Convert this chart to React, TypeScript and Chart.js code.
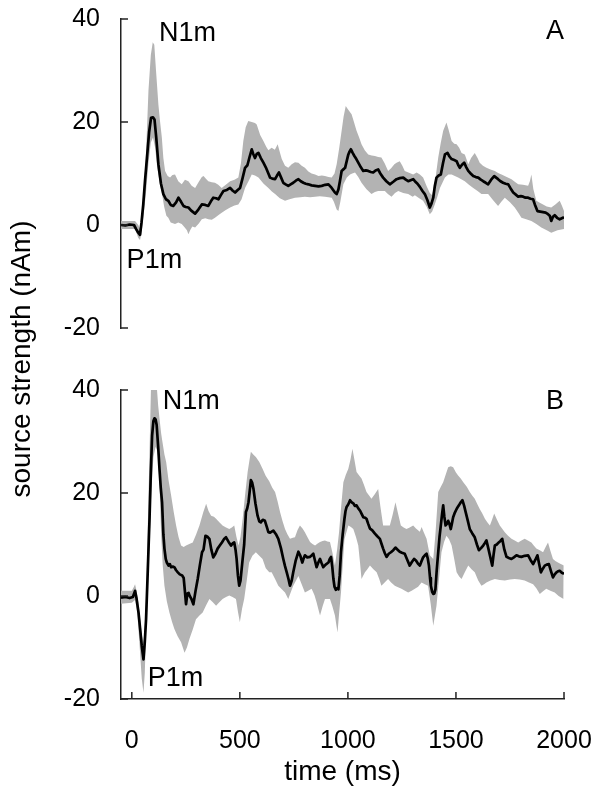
import React, { useEffect, useRef } from 'react';
import { Chart, registerables } from 'chart.js';

Chart.register(...registerables);

// ---- axes / labels ----
const xTicks = [0, 500, 1000, 1500, 2000];
const yTicks = [-20, 0, 20, 40];
const xTitle = 'time (ms)';
const yTitle = 'source strength (nAm)';

// ---- panel A : [time ms, nAm] ----
const meanA: [number, number][] = [[-50,0],[-30,-0.1],[-10,0.1],[10,0],[20,-0.8],[30,-1.5],[38,-1.9],[45,0.5],[53,4],[61,8.5],[70,13],[80,18],[89,20.8],[98,20.9],[105,20.5],[113,17],[123,11.8],[135,8],[146,6],[158,5],[169,4.7],[180,3.9],[192,3.7],[205,4.4],[216,5.3],[228,4.5],[239,3.7],[250,3.5],[262,3.4],[275,2.8],[293,2.2],[308,3],[324,4],[340,3.9],[354,3.7],[366,4.6],[377,5.3],[390,5.2],[401,5],[412,5.8],[424,6.6],[440,6.8],[455,7.2],[466,6.7],[478,6.3],[490,6.8],[501,7.2],[512,9],[524,11.1],[535,11.6],[545,13.2],[555,14.7],[562,13.8],[570,13],[578,13.8],[586,14],[597,13],[609,12.1],[620,11.2],[632,10],[640,9.2],[650,9],[663,8.9],[672,9.6],[681,10.2],[691,9.2],[701,8.2],[712,7.9],[724,7.6],[735,7.9],[747,8.2],[759,8.6],[771,8.9],[782,8.5],[794,8.2],[805,8],[817,7.9],[832,7.7],[848,7.6],[864,7.5],[879,7.6],[895,7.8],[910,7.9],[925,7.2],[940,6.3],[948,6],[956,6.9],[963,8.5],[971,10.5],[979,10.8],[987,11.1],[995,12.5],[1002,13.7],[1008,14.3],[1014,14.7],[1022,14],[1030,13.4],[1039,12.8],[1048,12.1],[1060,11.2],[1071,10.5],[1083,10.6],[1094,10.5],[1106,10.3],[1117,10.2],[1128,10.6],[1140,10.8],[1150,10],[1163,9.2],[1178,8.5],[1194,7.9],[1210,8.4],[1225,8.9],[1240,9.1],[1256,9.2],[1268,8.8],[1279,8.5],[1290,8.7],[1302,8.9],[1310,8.5],[1322,8],[1333,7.4],[1345,6.6],[1356,6],[1368,4.8],[1379,3.4],[1387,4.2],[1395,5.3],[1402,7.5],[1410,9.2],[1420,9.6],[1430,9.8],[1440,12],[1449,13.7],[1461,14],[1470,13.3],[1480,12.8],[1492,12.6],[1503,12.4],[1510,11.7],[1518,11.1],[1528,11.7],[1538,12.1],[1548,11.2],[1557,10.5],[1568,10],[1580,9.5],[1592,9.3],[1603,9.2],[1615,8.8],[1626,8.5],[1638,8.2],[1649,7.9],[1663,8.8],[1677,9.5],[1686,9.2],[1695,8.9],[1706,8.5],[1718,8.2],[1730,8],[1742,7.9],[1753,7.1],[1765,6.3],[1777,5.9],[1788,5.5],[1800,5.6],[1811,5.5],[1822,5.3],[1834,5.3],[1845,5.1],[1857,5],[1865,4],[1877,2.7],[1890,2.6],[1903,2.5],[1915,2.4],[1926,2.1],[1934,1.8],[1941,0.8],[1949,1.6],[1957,1.9],[1968,1.4],[1980,1.1],[1990,1.3],[2000,1.5]];

const upperA: [number, number][] = [[-50,0.8],[0,0.8],[15,0.8],[30,0],[38,-0.8],[45,2],[55,7],[65,13],[77,26],[88,33],[97,35.5],[104,35],[112,30],[123,23.4],[131,20],[139,17],[146,13],[154,10.5],[166,9.5],[177,9.2],[188,9.7],[200,9.8],[215,8.5],[231,7.9],[246,8.8],[262,8.5],[277,7.6],[293,7.2],[310,8.4],[324,9.3],[332,9.5],[343,9],[354,8.5],[370,8.3],[385,8.2],[400,7.8],[416,7.2],[435,7.8],[455,8.5],[475,8.8],[493,9.2],[505,12],[516,16.3],[527,19],[539,20.2],[555,20],[570,19.8],[578,19.5],[594,17.5],[609,16.3],[622,15.2],[632,14.5],[647,15],[662,14.6],[675,15.7],[686,14],[694,12.8],[709,11.5],[724,11.1],[740,11.8],[755,12.2],[771,12.1],[786,11.5],[801,11.1],[817,10.4],[832,10],[848,9.8],[864,9.5],[879,9.6],[894,9.5],[910,9.3],[925,9.2],[938,10],[948,11.8],[960,15],[971,18.3],[980,21],[990,23.1],[1000,22.5],[1017,21.5],[1028,20],[1040,18.3],[1052,17],[1063,15.7],[1078,14.5],[1094,13.7],[1110,13.5],[1125,13.4],[1140,13.2],[1155,13.1],[1170,12],[1186,10.5],[1200,11],[1215,11.8],[1225,12.1],[1240,12.4],[1252,11.5],[1263,10.5],[1280,10.2],[1302,9.8],[1318,10.2],[1333,9.8],[1348,9.2],[1365,7.5],[1379,6.2],[1390,5.8],[1405,9],[1418,13.1],[1430,16],[1441,18.3],[1456,19.9],[1466,18.5],[1480,16.3],[1492,15.8],[1503,15.7],[1515,15],[1526,14],[1541,13.7],[1557,11.8],[1570,13],[1587,14],[1600,13],[1610,12.1],[1625,11.5],[1641,11.1],[1660,10.8],[1680,10.5],[1695,10.1],[1711,9.8],[1735,9.3],[1757,8.9],[1772,8.4],[1788,7.9],[1810,7.8],[1834,7.6],[1842,8.5],[1849,9.8],[1858,7],[1872,4.7],[1888,4.3],[1903,4],[1920,3.6],[1941,3.4],[1960,4],[1980,4.7],[1990,3.8],[2000,2.7]];

const lowerA: [number, number][] = [[-50,-0.8],[15,-0.8],[30,-2.5],[38,-2.9],[45,-1.5],[55,2],[65,6],[77,12],[88,16],[98,17],[108,15],[118,11],[130,8],[139,6.2],[150,3.5],[160,1.8],[169,1.4],[180,0.5],[200,0.2],[215,0.5],[231,0.2],[245,-0.5],[255,-1],[262,-1.8],[270,-1],[280,-0.3],[293,-0.5],[310,0.3],[324,1.1],[340,1.3],[354,1.1],[370,1],[385,1.4],[400,1.9],[416,2.4],[435,2.9],[455,3.4],[475,3.8],[493,4],[508,5],[524,7.2],[540,8.5],[555,9.8],[570,9.6],[586,9.2],[610,8],[632,7.2],[648,6.5],[663,6],[685,5.2],[709,4.7],[730,5],[755,5.3],[780,5.4],[801,5.5],[825,5.4],[848,5.5],[870,5.6],[894,5.5],[910,5.4],[925,5.3],[935,4.5],[948,3],[956,2.7],[965,4.5],[979,7.9],[995,9.2],[1010,9.8],[1020,10],[1033,10.2],[1048,9.3],[1063,8.2],[1085,7],[1109,6],[1125,6.4],[1140,6.6],[1171,6.6],[1185,6],[1202,5.5],[1218,6.2],[1233,6.6],[1256,6.2],[1279,6],[1300,5.5],[1310,5.8],[1330,5.2],[1348,4.7],[1365,3.5],[1379,2.1],[1390,2.6],[1402,4],[1414,5.5],[1426,7.2],[1449,9.2],[1465,9.8],[1480,9.8],[1495,9.5],[1510,9.2],[1541,8.5],[1560,7.8],[1580,7.2],[1600,6.6],[1618,6],[1649,6],[1672,4.8],[1695,3.7],[1710,4.5],[1726,5.3],[1750,4.4],[1772,3.4],[1790,2.3],[1803,1.4],[1825,1.1],[1849,0.8],[1872,0.2],[1895,-0.5],[1920,-1],[1941,-1.5],[1970,-1],[2000,-0.8]];

// ---- panel B : [time ms, nAm] ----
const meanB: [number, number][] = [[-50,-0.3],[-30,-0.2],[-10,-0.4],[5,-0.2],[15,1],[22,-0.5],[31,-3.2],[40,-7],[46,-9.7],[54,-12.3],[60,-9],[66,-4.5],[74,5],[82,15],[88,24],[94,31.2],[100,34],[105,34.5],[110,34.3],[115,33.2],[122,29],[128,24.7],[134,21],[140,18.2],[146,12],[151,9.2],[157,7.2],[162,6.5],[170,5.9],[176,6.2],[182,5.6],[190,5.7],[197,5.6],[205,5],[213,4.6],[222,4.2],[233,4],[240,3.5],[244,1.7],[251,-1.6],[257,0.5],[263,0.6],[267,0.1],[275,-0.5],[285,-1.6],[295,1],[305,3.3],[315,6],[325,8.5],[332,9],[341,11.7],[350,11.5],[359,11.1],[368,9],[377,7.5],[387,8.2],[397,9.2],[407,9.8],[417,10.4],[426,11],[436,11.4],[448,10.5],[459,9.8],[467,10.2],[474,10.4],[480,9],[485,7.2],[491,4],[497,2],[503,3],[513,7.2],[520,10],[528,16.3],[534,17],[540,18.2],[546,20.5],[551,22.5],[557,22],[563,20.8],[572,18],[582,15.6],[590,14.5],[597,14.3],[606,14.8],[616,14.6],[624,13.5],[632,12.4],[640,12.3],[655,12.7],[667,12],[678,11.1],[690,9.3],[701,7.2],[709,5.8],[717,4.6],[725,3.3],[732,2],[740,3],[747,4.6],[758,6.8],[771,8.6],[780,7.8],[789,6.5],[795,7.3],[801,7.9],[812,7.5],[825,7.6],[833,7.9],[840,8.2],[847,7],[855,5.6],[863,6.5],[871,7.2],[878,6.4],[886,5.6],[897,6.1],[910,6.5],[916,7.2],[922,7.6],[928,5.5],[933,3.3],[938,1.8],[944,1.2],[950,1.5],[956,1.3],[962,4],[968,8.5],[976,12],[984,15],[989,16.5],[994,17.3],[1002,17.8],[1010,18.6],[1017,18.2],[1025,18],[1032,17.5],[1040,17.6],[1048,17],[1056,16.6],[1063,16],[1071,15.3],[1079,15.2],[1086,15],[1094,14],[1102,13.1],[1112,12.8],[1125,12.1],[1136,11.6],[1148,11.1],[1155,10.2],[1163,9.2],[1171,8.3],[1179,7.6],[1189,8.2],[1199,8.5],[1210,8.9],[1220,9.4],[1230,9],[1240,8.6],[1250,8.4],[1263,8.2],[1275,7],[1286,5.9],[1296,6.6],[1306,7.2],[1315,6.9],[1324,6.3],[1333,5.9],[1341,6.8],[1348,7.5],[1356,7.9],[1364,8.2],[1370,7.2],[1375,5.9],[1380,3.5],[1384,2],[1390,0.8],[1395,0.4],[1400,0.5],[1405,1.3],[1411,5],[1418,8.5],[1424,11.5],[1430,13.7],[1436,16],[1441,17.6],[1446,15.5],[1452,13.7],[1458,14],[1464,14.6],[1470,14],[1476,13],[1481,14],[1487,15.3],[1495,16.2],[1503,16.9],[1510,17.4],[1518,17.9],[1524,18.3],[1530,18.6],[1538,17.5],[1545,16.3],[1555,14.6],[1564,13],[1575,12.2],[1587,11.4],[1597,10],[1606,8.9],[1616,9.3],[1626,9.8],[1634,10.3],[1641,10.8],[1649,9.4],[1657,7.9],[1663,6.8],[1668,5.9],[1674,8],[1680,9.8],[1689,10],[1698,10.4],[1706,10.7],[1714,11.1],[1724,9],[1734,7.6],[1745,7.4],[1757,7.2],[1768,7.5],[1780,7.9],[1791,7.7],[1803,7.6],[1818,7.8],[1834,7.9],[1845,7],[1857,6.2],[1867,7],[1877,7.9],[1885,6.2],[1893,4.6],[1902,5.3],[1911,5.9],[1920,6.1],[1930,6.2],[1940,4.8],[1949,3.6],[1957,4.2],[1965,4.6],[1972,4.8],[1980,4.9],[1990,4.5],[2000,4.3]];

const upperB: [number, number][] = [[-50,1],[0,1],[10,1.8],[15,2.3],[22,1],[31,-1.5],[40,-5],[46,-7.5],[54,-9],[60,-6],[66,-1],[72,10],[82,28],[89,41],[95,43],[108,43],[115,41],[122,37],[128,34.5],[136,31.5],[143,29.6],[151,27.5],[159,26],[170,22.5],[182,19.5],[194,16.3],[205,13.7],[216,11.5],[228,9.8],[240,9.5],[251,9.8],[266,10.1],[282,10.4],[298,12],[313,13.7],[322,15],[331,16.3],[344,17.9],[355,16.5],[367,15.6],[380,15.4],[390,15],[405,14.3],[420,13.7],[436,13.3],[451,13],[463,13.3],[474,13.7],[484,11.5],[494,9.8],[503,11.5],[513,15],[524,19.5],[536,24.1],[545,26.5],[551,28],[562,27.5],[574,27],[590,26],[605,24.7],[620,23.3],[636,22.3],[650,21],[663,20.2],[675,18.3],[686,16.3],[697,14.6],[709,13],[720,12],[732,11.1],[745,11.3],[755,11.4],[767,12.8],[778,13.7],[790,13.1],[801,12.4],[813,11.4],[825,10.5],[836,10.1],[848,9.8],[860,10.2],[871,10.5],[883,10.7],[894,10.8],[905,10.6],[917,10.5],[928,8.5],[940,5.9],[950,9],[959,12.4],[969,17.5],[979,22.1],[990,23.5],[1002,24.7],[1012,26.5],[1021,28.6],[1030,26.5],[1040,24.1],[1052,23.4],[1063,22.8],[1075,21.5],[1086,20.2],[1098,19.5],[1109,18.9],[1125,19.8],[1140,20.8],[1150,17.5],[1163,13.7],[1178,13.7],[1194,13.7],[1207,15.8],[1220,18.2],[1232,16],[1245,13.7],[1258,13.3],[1271,13],[1286,13.3],[1302,13.7],[1315,13.1],[1333,12.5],[1341,13.4],[1352,12.3],[1364,11.1],[1379,7.9],[1395,7.2],[1405,12],[1418,20.2],[1430,21.2],[1441,22.1],[1452,23.5],[1464,25],[1476,25.2],[1487,25],[1500,24],[1510,23.4],[1522,22.8],[1534,22.1],[1550,21.2],[1564,20.2],[1575,19.5],[1587,18.9],[1598,17.9],[1610,16.9],[1622,16],[1634,15],[1645,14.3],[1657,13.7],[1667,14.8],[1677,16],[1690,14.8],[1703,13.7],[1715,13],[1726,12.4],[1741,11.7],[1757,11.1],[1772,10.8],[1788,10.4],[1803,10.8],[1818,11.1],[1833,10.8],[1849,10.4],[1860,9.8],[1872,9.2],[1888,8.9],[1903,8.5],[1915,9.5],[1926,10.4],[1937,8.8],[1949,7.2],[1960,6.8],[1972,6.5],[1985,6.2],[2000,5.9]];

const lowerB: [number, number][] = [[-50,-1.5],[0,-1.3],[15,-0.8],[25,-3],[35,-9],[46,-16],[54,-18.8],[60,-15],[66,-7],[74,2],[82,10],[90,20],[100,27],[110,29],[120,28],[128,22],[136,11.7],[143,6],[151,2],[162,-1],[174,-3.2],[186,-5],[197,-6.4],[212,-7.8],[228,-9],[236,-10],[244,-11],[255,-10],[267,-8.3],[282,-6.5],[297,-4.5],[313,-3.8],[328,-3.2],[344,-1.8],[359,-0.6],[375,-1.2],[390,-1.9],[405,-1.2],[420,-0.6],[436,-0.2],[451,0.1],[466,-0.2],[482,-0.6],[491,-3],[500,-5.1],[510,-2.5],[520,-0.6],[532,3],[543,6.5],[558,7.8],[574,8.5],[590,7.8],[605,7.2],[620,5.4],[636,4.6],[647,4.6],[663,3.3],[678,2],[694,1.3],[709,0.7],[724,-0.6],[736,0.8],[747,2],[760,3],[771,3.9],[786,2.3],[801,0.7],[816,1],[832,1.4],[845,0.2],[855,-1.2],[863,-2.5],[871,-3.8],[883,-2],[894,-0.6],[906,-0.6],[917,-0.6],[928,-2],[940,-3.8],[946,-5.5],[952,-7.1],[960,-3],[968,0.7],[976,6],[984,11],[1002,13.7],[1014,13.4],[1025,13],[1037,11.5],[1048,9.8],[1056,6.5],[1063,3.3],[1071,4],[1079,4.6],[1090,5.2],[1102,5.9],[1118,5.2],[1133,4.6],[1145,3.3],[1155,2],[1170,2.6],[1186,3.3],[1200,2.6],[1217,2],[1232,1.7],[1248,1.4],[1264,1],[1279,0.7],[1295,1],[1310,1.4],[1325,1.8],[1341,2.6],[1356,2.3],[1371,2],[1383,-1.5],[1395,-5.8],[1402,-4],[1410,-1.9],[1422,3.5],[1433,8.5],[1445,10.5],[1456,11.7],[1468,11],[1480,9.8],[1492,7.2],[1503,4.6],[1515,3.8],[1526,3.3],[1541,4.6],[1557,5.9],[1572,5.2],[1587,4.6],[1603,3],[1618,2],[1630,2.3],[1641,2.6],[1660,3],[1680,3.3],[1703,3.1],[1726,3],[1750,3.2],[1772,3.3],[1795,3.2],[1818,3],[1838,2.6],[1857,2.3],[1872,1.5],[1888,0.4],[1903,0.9],[1918,1.4],[1937,1],[1957,0.7],[1975,0],[1998,-0.6]];

// ---- text annotations, anchored in data units ----
type Note = { text: string; t: number; v: number; align: CanvasTextAlign };
const notesA: Note[] = [
  { text: 'N1m', t: 126, v: 37.2, align: 'left' },
  { text: 'P1m', t: -24, v: -6.9, align: 'left' },
  { text: 'A', t: 2000, v: 37.5, align: 'right' },
];
const notesB: Note[] = [
  { text: 'N1m', t: 143, v: 37.7, align: 'left' },
  { text: 'P1m', t: 74, v: -16.1, align: 'left' },
  { text: 'B', t: 2000, v: 37.7, align: 'right' },
];

// ---- styling ----
const FONT = '"Liberation Sans", Arial, Helvetica, sans-serif';
const TICK_SIZE = 25;
const TITLE_SIZE = 28;
const NOTE_SIZE = 27;
const BAND = '#b3b3b3';
const AXIS = '#222';
const W = 600;
const H = 799;
const AREA_LEFT = 121;
const AREA_RIGHT = 564;
const TOP_A = 19;
const BOTTOM_A = 328;
const TOP_B = 390;
const BOTTOM_B = 699;
const TICK_LEN = 7;

const toPts = (arr: [number, number][]) => arr.map(([x, y]) => ({ x, y }));

function inwardTicksPlugin(withX: boolean) {
  return {
    id: 'inwardTicks',
    afterDraw(chart: any) {
      const ctx = chart.ctx;
      const { left, bottom } = chart.chartArea;
      ctx.save();
      ctx.strokeStyle = AXIS;
      ctx.lineWidth = 1.5;
      const ys = chart.scales.y;
      yTicks.forEach((v) => {
        const py = ys.getPixelForValue(v);
        ctx.beginPath();
        ctx.moveTo(left, py);
        ctx.lineTo(left + TICK_LEN, py);
        ctx.stroke();
      });
      if (withX) {
        const xs = chart.scales.x;
        xTicks.forEach((v) => {
          const px = xs.getPixelForValue(v);
          ctx.beginPath();
          ctx.moveTo(px, bottom);
          ctx.lineTo(px, bottom - TICK_LEN);
          ctx.stroke();
        });
      }
      ctx.restore();
    },
  };
}

function notesPlugin(notes: Note[], drawYTitle: boolean) {
  return {
    id: 'notes',
    afterDraw(chart: any) {
      const ctx = chart.ctx;
      const xs = chart.scales.x;
      const ys = chart.scales.y;
      ctx.save();
      ctx.fillStyle = '#000';
      ctx.font = `${NOTE_SIZE}px ${FONT}`;
      ctx.textBaseline = 'middle';
      notes.forEach((n) => {
        ctx.textAlign = n.align;
        ctx.fillText(n.text, xs.getPixelForValue(n.t), ys.getPixelForValue(n.v));
      });
      if (drawYTitle) {
        ctx.font = `${TITLE_SIZE}px ${FONT}`;
        ctx.textAlign = 'center';
        ctx.translate(22, 359);
        ctx.rotate(-Math.PI / 2);
        ctx.fillText(yTitle, 0, 0);
      }
      ctx.restore();
    },
  };
}

function buildConfig(
  mean: [number, number][],
  upper: [number, number][],
  lower: [number, number][],
  notes: Note[],
  isBottom: boolean,
) {
  const tickFont = { family: FONT, size: TICK_SIZE };
  const top = isBottom ? TOP_B : TOP_A;
  const bottom = isBottom ? BOTTOM_B : BOTTOM_A;
  return {
    type: 'line' as const,
    data: {
      datasets: [
        {
          data: toPts(mean),
          borderColor: '#000',
          borderWidth: 2.7,
          pointRadius: 0,
          tension: 0,
          fill: false,
          order: 0,
          borderJoinStyle: 'round' as const,
        },
        {
          data: toPts(upper),
          borderWidth: 0,
          borderColor: 'rgba(0,0,0,0)',
          backgroundColor: BAND,
          pointRadius: 0,
          tension: 0,
          fill: '+1',
          order: 1,
        },
        {
          data: toPts(lower),
          borderWidth: 0,
          borderColor: 'rgba(0,0,0,0)',
          backgroundColor: BAND,
          pointRadius: 0,
          tension: 0,
          fill: false,
          order: 2,
        },
      ],
    },
    options: {
      animation: false as const,
      responsive: false,
      events: [],
      layout: {
        padding: {
          left: 0,
          right: W - AREA_RIGHT,
          top,
          bottom: isBottom ? 0 : H - bottom,
        },
      },
      scales: {
        x: {
          type: 'linear' as const,
          min: -50,
          max: 2000,
          display: isBottom,
          afterBuildTicks: (s: any) => {
            s.ticks = xTicks.map((value) => ({ value }));
          },
          afterFit: (s: any) => {
            s.height = isBottom ? H - bottom : 0;
            s.paddingLeft = 0;
            s.paddingRight = 0;
            s.paddingTop = 0;
            s.paddingBottom = 0;
          },
          grid: { display: false, drawTicks: false },
          border: { display: true, color: AXIS, width: 1.5 },
          ticks: {
            color: '#000',
            font: tickFont,
            padding: 27,
            maxRotation: 0,
            autoSkip: false,
            callback: (v: any) => String(v),
          },
          title: {
            display: true,
            text: xTitle,
            color: '#000',
            font: { family: FONT, size: TITLE_SIZE },
            padding: { top: 0, bottom: 10 },
          },
        },
        y: {
          type: 'linear' as const,
          min: -20,
          max: 40,
          afterBuildTicks: (s: any) => {
            s.ticks = yTicks.map((value) => ({ value }));
          },
          afterFit: (s: any) => {
            s.width = AREA_LEFT;
            s.paddingLeft = 0;
            s.paddingRight = 0;
            s.paddingTop = 0;
            s.paddingBottom = 0;
          },
          grid: { display: false, drawTicks: false },
          border: { display: true, color: AXIS, width: 1.5 },
          ticks: { color: '#000', font: tickFont, padding: 21, callback: (v: any) => String(v) },
        },
      },
      plugins: {
        legend: { display: false },
        tooltip: { enabled: false },
      },
    },
    plugins: [inwardTicksPlugin(isBottom), notesPlugin(notes, !isBottom)],
  };
}

export default function App() {
  const refA = useRef<HTMLCanvasElement>(null);
  const refB = useRef<HTMLCanvasElement>(null);

  useEffect(() => {
    const a = new Chart(refA.current!, buildConfig(meanA, upperA, lowerA, notesA, false) as any);
    const b = new Chart(refB.current!, buildConfig(meanB, upperB, lowerB, notesB, true) as any);
    return () => {
      a.destroy();
      b.destroy();
    };
  }, []);

  const canvasStyle: React.CSSProperties = { position: 'absolute', left: 0, top: 0, width: W, height: H };
  return (
    <div style={{ position: 'absolute', left: 0, top: 0, width: W, height: H, background: '#fff' }}>
      <canvas ref={refA} width={W} height={H} style={canvasStyle} />
      <canvas ref={refB} width={W} height={H} style={canvasStyle} />
    </div>
  );
}
